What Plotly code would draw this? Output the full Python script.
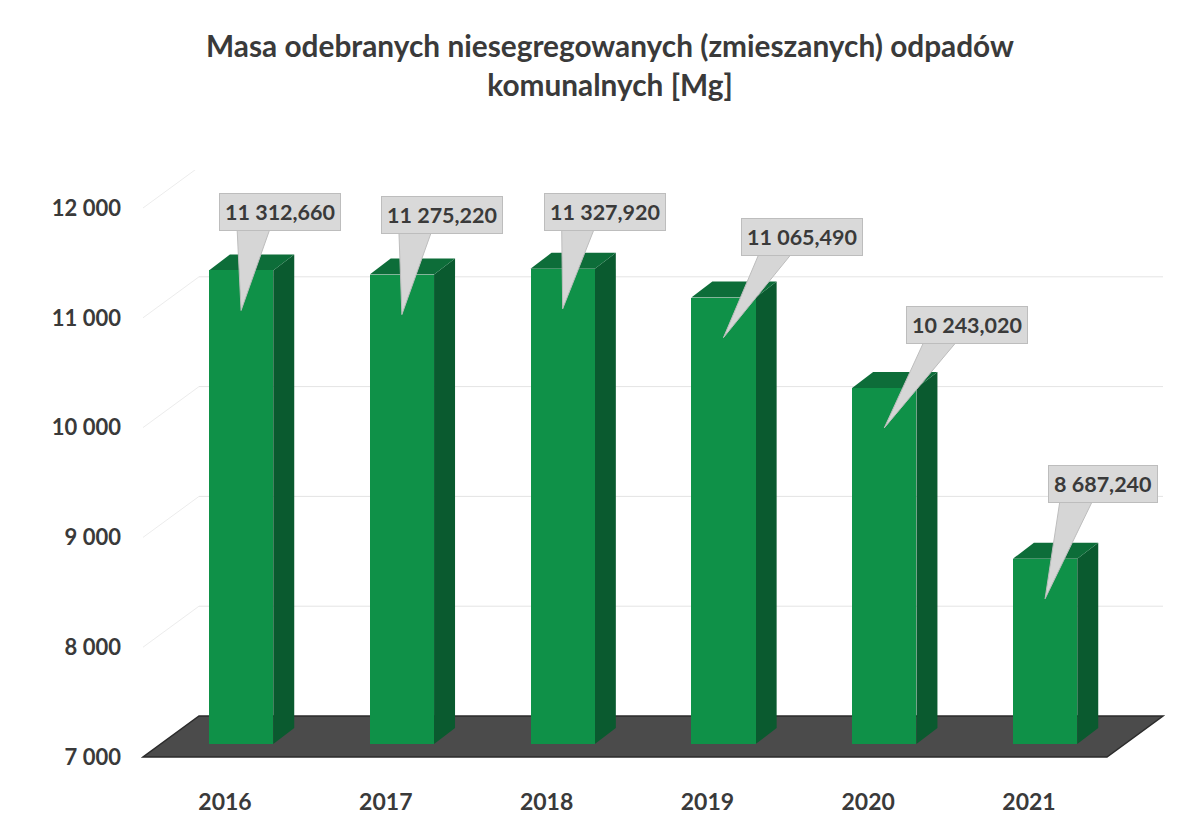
import plotly.graph_objects as go

# ---------------- data ----------------
years = ["2016", "2017", "2018", "2019", "2020", "2021"]
mass_mg = [11312.660, 11275.220, 11327.920, 11065.490, 10243.020, 8687.240]
mass_labels = ["11 312,660", "11 275,220", "11 327,920", "11 065,490", "10 243,020", "8 687,240"]
y_tick_values = [7000, 8000, 9000, 10000, 11000, 12000]
y_tick_labels = ["7 000", "8 000", "9 000", "10 000", "11 000", "12 000"]
axis_base = 7000

# ---------------- geometry / style ----------------
PAGE_PAD = 8                      # browser default body margin
FIG_W, FIG_H = 1199 - PAGE_PAD, 824 - PAGE_PAD
M_L, M_R, M_T, M_B = 140 - PAGE_PAD, 29, 170 - PAGE_PAD, 44
PX_X = 160.8                      # pixels per category step
PX_Y = 0.1098                     # pixels per Mg
FIRST_CAT_PX = 225 - PAGE_PAD     # x of first category label (figure coords)
FLOOR_FRONT_PX = 757 - PAGE_PAD   # y of the floor's front edge (= axis base)

def dx(px):
    return px / PX_X

def dy(px):
    return px / PX_Y

x_lo = (M_L - FIRST_CAT_PX) / PX_X
x_hi = (FIG_W - M_R - FIRST_CAT_PX) / PX_X
y_lo = axis_base - (FIG_H - M_B - FLOOR_FRONT_PX) / PX_Y
y_hi = axis_base + (FLOOR_FRONT_PX - M_T) / PX_Y

BAR_LIFT = dy(13)            # bar front plane sits above the floor front edge
y2_lo, y2_hi = y_lo - BAR_LIFT, y_hi - BAR_LIFT

BAR_W = 0.4
BAR_OFF = -0.1
DEPTH_X, DEPTH_Y = dx(21), dy(16)
WALL_X, WALL_Y = dx(56), dy(41)

FRONT = "#0f9148"
SIDE = "#0a5a2f"
TOP = "#0d6d39"
TEXT = "#3a3a3a"
FONT = "Lato"

# callout placement (pixel offsets of box centre from bar front-top centre)
callout_dx = [39, 40, 42, 79, 83, 58]
callout_dy = [-58, -60, -57, -61, -63, -75]

n = len(years)
xs = list(range(n))

fig = go.Figure()
fig.add_trace(go.Bar(
    x=xs, y=[v - axis_base for v in mass_mg], base=axis_base,
    width=BAR_W, offset=BAR_OFF, yaxis="y2",
    marker=dict(color=FRONT, line=dict(width=0)),
    hoverinfo="skip", showlegend=False,
))

shapes = []
# floor parallelogram
fl_left = xs[0] - dx(82)
fl_right = xs[-1] + dx(78)
shapes.append(dict(
    type="path", xref="x", yref="y", layer="below",
    path=(f"M {fl_left},{axis_base} L {fl_right},{axis_base} "
          f"L {fl_right + WALL_X},{axis_base + WALL_Y} L {fl_left + WALL_X},{axis_base + WALL_Y} Z"),
    fillcolor="#4b4b4b", line=dict(color="#2b2b2b", width=1.5),
))
# back-wall grid lines and left-wall edges
for v in y_tick_values[1:]:
    shapes.append(dict(type="line", xref="x", yref="y", layer="below",
                       x0=fl_left + WALL_X, x1=fl_right + WALL_X,
                       y0=v + WALL_Y, y1=v + WALL_Y,
                       line=dict(color="#e4e4e4", width=1)))
    shapes.append(dict(type="line", xref="x", yref="y", layer="below",
                       x0=fl_left, x1=fl_left + WALL_X,
                       y0=v, y1=v + WALL_Y,
                       line=dict(color="#ececec", width=1)))

# 3D side & top faces of bars
for i, v in zip(xs, mass_mg):
    xl = i + BAR_OFF
    xr = xl + BAR_W
    shapes.append(dict(
        type="path", xref="x", yref="y2", layer="below",
        path=(f"M {xr},{axis_base} L {xr + DEPTH_X},{axis_base + DEPTH_Y} "
              f"L {xr + DEPTH_X},{v + DEPTH_Y} L {xr},{v} Z"),
        fillcolor=SIDE, line=dict(width=0),
    ))
    shapes.append(dict(
        type="path", xref="x", yref="y2", layer="below",
        path=(f"M {xl},{v} L {xl + DEPTH_X},{v + DEPTH_Y} "
              f"L {xr + DEPTH_X},{v + DEPTH_Y} L {xr},{v} Z"),
        fillcolor=TOP, line=dict(width=0),
    ))

# callout wedges + boxes
annotations = []
for i, v, lab, cdx, cdy in zip(xs, mass_mg, mass_labels, callout_dx, callout_dy):
    cx = i + BAR_OFF + BAR_W / 2
    pts = [(cdx - 43, cdy + 16), (cdx - 10, cdy + 16), (0, 40)]
    path = "M " + " L ".join(f"{cx + dx(px)},{v - dy(py)}" for px, py in pts) + " Z"
    shapes.append(dict(type="path", xref="x", yref="y2", layer="above",
                       path=path, fillcolor="#d6d6d6",
                       line=dict(color="#bdbdbd", width=1)))
    annotations.append(dict(
        x=cx, y=v, xref="x", yref="y2", xshift=cdx, yshift=-cdy,
        text=lab, showarrow=False, xanchor="center", yanchor="middle",
        bgcolor="#d9d9d9", bordercolor="#bdbdbd", borderwidth=1, borderpad=5,
        font=dict(family=FONT, size=21.5, color=TEXT, weight="bold"),
    ))

fig.update_layout(
    template="none",
    width=FIG_W, height=FIG_H,
    margin=dict(l=M_L, r=M_R, t=M_T, b=M_B, autoexpand=False),
    paper_bgcolor="white", plot_bgcolor="white",
    title=dict(
        text="Masa odebranych niesegregowanych (zmieszanych) odpadów<br>komunalnych [Mg]",
        x=602 / FIG_W, xanchor="center", xref="container",
        y=1 - 49 / FIG_H, yanchor="top", yref="container",
        font=dict(family=FONT, size=29.8, color=TEXT, weight="bold"),
    ),
    xaxis=dict(range=[x_lo, x_hi], tickvals=xs, ticktext=years,
               showgrid=False, zeroline=False, showline=False, ticks="",
               automargin=False, ticklabelstandoff=6,
               tickfont=dict(family=FONT, size=23, color=TEXT, weight="bold")),
    yaxis=dict(range=[y_lo, y_hi], tickvals=y_tick_values, ticktext=y_tick_labels,
               showgrid=False, zeroline=False, showline=False, ticks="",
               automargin=False, ticklabelstandoff=18,
               tickfont=dict(family=FONT, size=22, color=TEXT, weight="bold")),
    yaxis2=dict(range=[y2_lo, y2_hi], overlaying="y", visible=False),
    shapes=shapes, annotations=annotations,
    bargap=0, showlegend=False,
)

fig.write_html("out.html")
